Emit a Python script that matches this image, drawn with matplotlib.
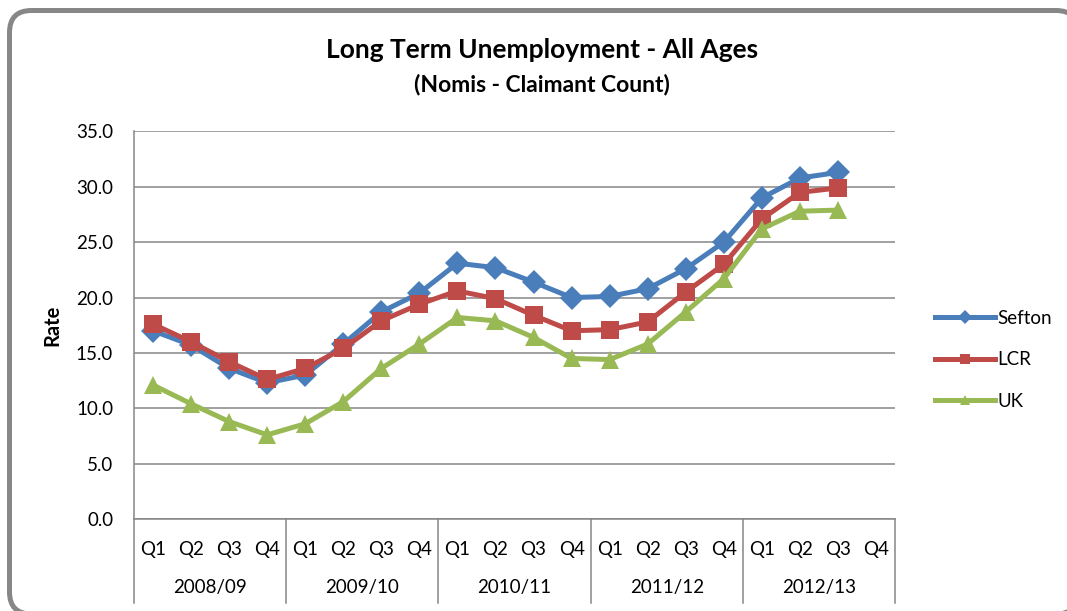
import matplotlib
matplotlib.use("Agg")
import matplotlib.pyplot as plt
from matplotlib.lines import Line2D
from matplotlib.patches import FancyBboxPatch
from matplotlib.transforms import IdentityTransform

plt.rcParams['font.family'] = ['Lato', 'DejaVu Sans']

quarters = ["Q1", "Q2", "Q3", "Q4"]
years = ["2008/09", "2009/10", "2010/11", "2011/12", "2012/13"]

sefton = [17.0, 15.7, 13.6, 12.3, 13.0, 15.8, 18.7, 20.4,
          23.1, 22.7, 21.4, 20.0, 20.1, 20.8, 22.6, 25.0,
          29.0, 30.8, 31.3, None]
lcr = [17.6, 16.0, 14.2, 12.6, 13.6, 15.4, 17.9, 19.4,
       20.6, 19.9, 18.4, 17.0, 17.1, 17.8, 20.5, 23.0,
       27.1, 29.5, 29.9, None]
uk = [12.1, 10.4, 8.8, 7.6, 8.6, 10.6, 13.6, 15.8,
      18.2, 17.9, 16.4, 14.5, 14.4, 15.8, 18.7, 21.7,
      26.2, 27.8, 27.9, None]

series = [
    {"name": "Sefton", "vals": sefton, "color": "#4A7EBB", "marker": "D", "ms": 12},
    {"name": "LCR", "vals": lcr, "color": "#BE4B48", "marker": "s", "ms": 13},
    {"name": "UK", "vals": uk, "color": "#98B954", "marker": "^", "ms": 13},
]

fig = plt.figure(figsize=(10.67, 6.11), dpi=100)
ax = fig.add_axes([0.1256, 0.1506, 0.7132, 0.6342])

# rounded chart border (runs off the right and bottom edges);
# white face so Agg doesn't clip the curved corners into odd shapes
border = FancyBboxPatch((9.5, -3), 1078 - 9.5, 600.5 + 3,
                        boxstyle="round,pad=0,rounding_size=22",
                        transform=IdentityTransform(), facecolor="white",
                        edgecolor="#878787", linewidth=3.6, zorder=-1)
fig.patches.append(border)

n = len(years) * len(quarters)
xs = list(range(n))
for s in series:
    pts = [(x, v) for x, v in zip(xs, s["vals"]) if v is not None]
    ax.plot([p[0] for p in pts], [p[1] for p in pts], color=s["color"],
            linewidth=3.6, marker=s["marker"], markersize=s["ms"],
            markeredgewidth=0, zorder=3, clip_on=False)

ax.set_xlim(-0.5, n - 0.5)
ax.set_ylim(0, 35)
ax.set_yticks(range(0, 36, 5))
ax.set_yticklabels(["%.1f" % v for v in range(0, 36, 5)], fontsize=13.5)
ax.yaxis.grid(True, color="#868686", linewidth=1.1)
ax.set_axisbelow(True)
for side in ["top", "right"]:
    ax.spines[side].set_visible(False)
for side in ["left", "bottom"]:
    ax.spines[side].set_color("#868686")
    ax.spines[side].set_linewidth(1.1)
ax.tick_params(axis="y", length=0, pad=15)

ax.set_xticks(xs)
ax.set_xticklabels(quarters * len(years), fontsize=13.5)
ax.tick_params(axis="x", length=0, pad=16)

trans = ax.get_xaxis_transform()
for i, yr in enumerate(years):
    ax.text(i * 4 + 1.5, -0.178, yr, transform=trans, ha="center",
            va="center", fontsize=13.5)
for i in range(len(years) + 1):
    ax.plot([i * 4 - 0.5, i * 4 - 0.5], [0, -0.217], transform=trans,
            color="#868686", linewidth=1.1, clip_on=False)

ax.set_ylabel("Rate", fontsize=14.5, fontweight="bold", labelpad=10)

fig.text(0.508, 0.918, "Long Term Unemployment - All Ages", ha="center",
         va="center", fontsize=19, fontweight="bold")
fig.text(0.508, 0.861, "(Nomis - Claimant Count)", ha="center",
         va="center", fontsize=16.5, fontweight="bold")

handles = [Line2D([], [], color=s["color"], linewidth=3.6, marker=s["marker"],
                  markersize=7, markeredgewidth=0) for s in series]
fig.legend(handles, [s["name"] for s in series], loc="center left",
           bbox_to_anchor=(0.876, 0.411), frameon=False, fontsize=13.5,
           handlelength=3.2, handletextpad=0.15, labelspacing=1.3,
           borderpad=0, borderaxespad=0)

fig.savefig("out.png", dpi=100)
